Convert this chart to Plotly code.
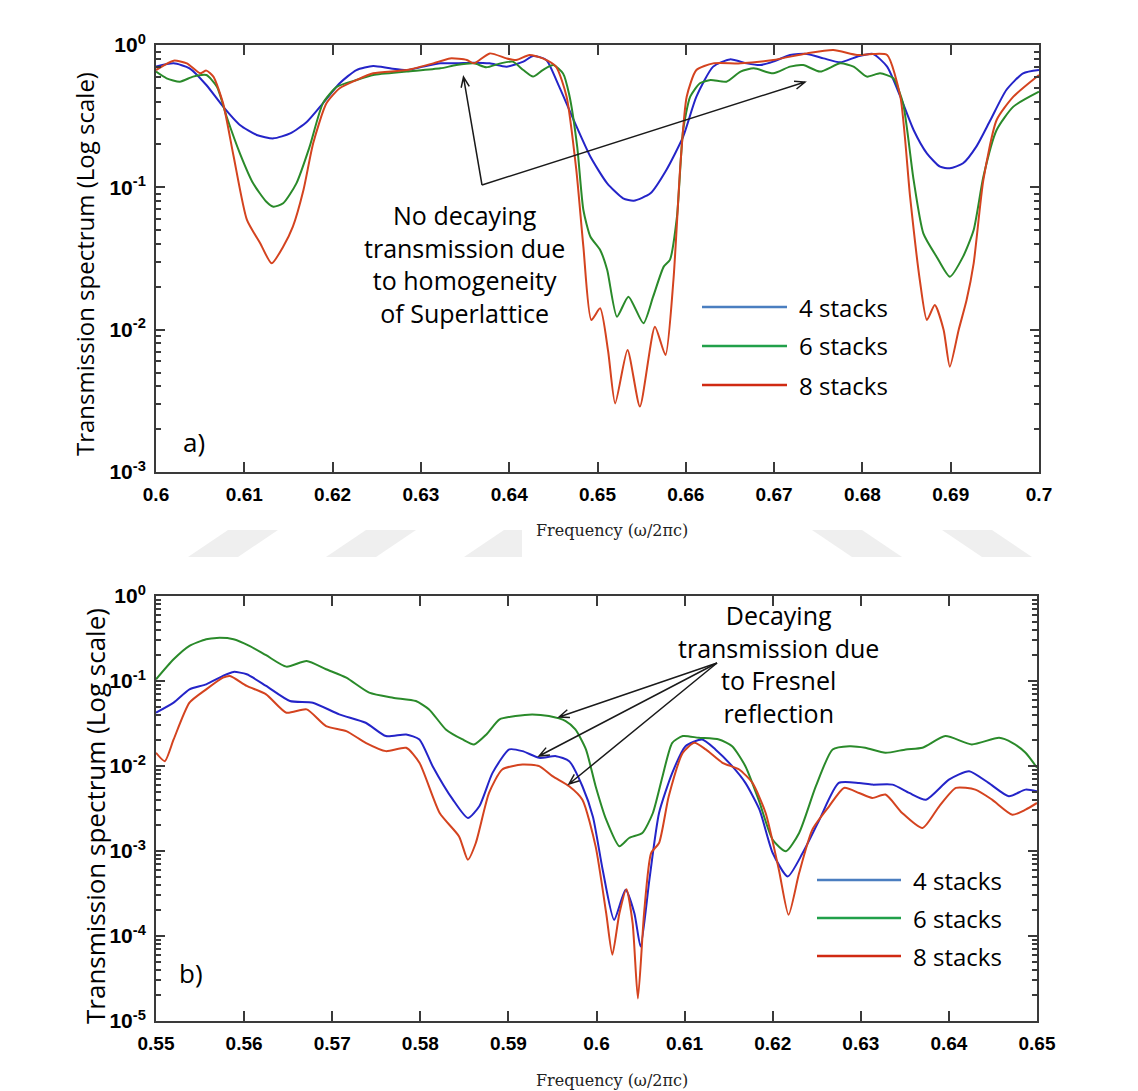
import math
import plotly.graph_objects as go

W, H = 1138, 1091


def px(x):
    return x / W


def py(y):
    return 1 - y / H


# ---------------- data (log10 of transmission) ----------------
# panel a) 0.60 - 0.70
a_freq_4 = [0.600, 0.602, 0.6038, 0.6057, 0.6076, 0.6095, 0.6114, 0.6133, 0.6152, 0.6171, 0.6189, 0.6208,
            0.6227, 0.6246, 0.6265, 0.6284, 0.6303, 0.6322, 0.634, 0.636, 0.6378, 0.6397, 0.6416, 0.6427,
            0.6442, 0.6455, 0.6473, 0.6492, 0.6511, 0.6529, 0.6541, 0.656, 0.6578, 0.6597, 0.6612, 0.6631,
            0.665, 0.6669, 0.6684, 0.6699, 0.6718, 0.6737, 0.6756, 0.6775, 0.6794, 0.6812, 0.6828, 0.6843,
            0.6858, 0.6873, 0.6888, 0.6899, 0.6914, 0.6929, 0.6945, 0.6963, 0.6982, 0.700]
a_logT_4 = [-0.152, -0.129, -0.164, -0.281, -0.433, -0.562, -0.632, -0.656, -0.621, -0.539, -0.410, -0.269,
            -0.176, -0.148, -0.164, -0.176, -0.152, -0.129, -0.129, -0.124, -0.129, -0.152, -0.117, -0.077,
            -0.105, -0.27, -0.527, -0.785, -0.972, -1.077, -1.094, -1.042, -0.878, -0.644, -0.363, -0.152,
            -0.101, -0.129, -0.141, -0.117, -0.070, -0.063, -0.094, -0.122, -0.082, -0.063, -0.152, -0.363,
            -0.597, -0.761, -0.855, -0.866, -0.831, -0.714, -0.527, -0.316, -0.199, -0.176]

a_freq_6 = [0.600, 0.6012, 0.6027, 0.6042, 0.6057, 0.6069, 0.608, 0.6095, 0.611, 0.6125, 0.6133, 0.6144,
            0.6159, 0.6174, 0.6189, 0.6205, 0.6227, 0.6246, 0.6284, 0.6322, 0.634, 0.636, 0.6374, 0.639,
            0.6404, 0.6416, 0.6427, 0.6438, 0.645, 0.6461, 0.6468, 0.6477, 0.6484, 0.6492, 0.6503, 0.6511,
            0.6522, 0.6535, 0.6552, 0.6563, 0.6575, 0.6582, 0.659, 0.6597, 0.6605, 0.6616, 0.6628, 0.6646,
            0.6662, 0.6677, 0.6699, 0.6718, 0.6733, 0.6752, 0.6775, 0.679, 0.6805, 0.682, 0.6835, 0.6846,
            0.6858, 0.6869, 0.6884, 0.6899, 0.6914, 0.6926, 0.6937, 0.6952, 0.6971, 0.700]
a_logT_6 = [-0.187, -0.234, -0.258, -0.222, -0.211, -0.293, -0.504, -0.761, -0.972, -1.101, -1.136, -1.112,
            -0.972, -0.714, -0.410, -0.293, -0.246, -0.211, -0.187, -0.164, -0.141, -0.129, -0.157, -0.129,
            -0.117, -0.176, -0.222, -0.176, -0.141, -0.20, -0.35, -0.714, -1.159, -1.347, -1.44, -1.581,
            -1.909, -1.768, -1.955, -1.768, -1.557, -1.51, -1.206, -0.597, -0.363, -0.269, -0.246, -0.258,
            -0.187, -0.164, -0.199, -0.152, -0.141, -0.187, -0.129, -0.152, -0.222, -0.199, -0.234, -0.41,
            -0.948, -1.323, -1.487, -1.628, -1.487, -1.30, -0.925, -0.597, -0.433, -0.328]

a_freq_8 = [0.600, 0.602, 0.6035, 0.605, 0.6057, 0.6065, 0.6076, 0.6088, 0.6103, 0.6118, 0.6131, 0.6144,
            0.6155, 0.6167, 0.6178, 0.6193, 0.6208, 0.6227, 0.6246, 0.6284, 0.6314, 0.6333, 0.6352, 0.636,
            0.6378, 0.6397, 0.6408, 0.6423, 0.6438, 0.6453, 0.6465, 0.6476, 0.6484, 0.6493, 0.6503, 0.6512,
            0.652, 0.6534, 0.6548, 0.6565, 0.6577, 0.6586, 0.6594, 0.6601, 0.6612, 0.6631, 0.6662, 0.6699,
            0.6737, 0.6767, 0.6794, 0.6812, 0.6828, 0.6843, 0.6854, 0.6865, 0.6873, 0.6882, 0.6892, 0.6899,
            0.6909, 0.6918, 0.6926, 0.6937, 0.6952, 0.6971, 0.700]
a_logT_8 = [-0.176, -0.110, -0.129, -0.199, -0.180, -0.222, -0.410, -0.785, -1.229, -1.393, -1.534, -1.417,
            -1.276, -1.019, -0.691, -0.410, -0.304, -0.246, -0.199, -0.176, -0.129, -0.094, -0.105, -0.129,
            -0.059, -0.094, -0.105, -0.070, -0.094, -0.152, -0.363, -0.878, -1.417, -1.932, -1.85, -2.15,
            -2.518, -2.143, -2.54, -1.979, -2.178, -1.651, -0.831, -0.363, -0.176, -0.129, -0.129, -0.105,
            -0.059, -0.035, -0.070, -0.063, -0.070, -0.363, -1.066, -1.651, -1.932, -1.827, -2.002, -2.26,
            -2.002, -1.792, -1.534, -0.948, -0.527, -0.363, -0.211]

# panel b) 0.55 - 0.65
b_freq_4 = [0.550, 0.552, 0.5538, 0.5557, 0.5576, 0.5588, 0.5603, 0.5625, 0.5652, 0.5678, 0.5708, 0.5738,
            0.5761, 0.5784, 0.5799, 0.5814, 0.5837, 0.5854, 0.5867, 0.5882, 0.5901, 0.5916, 0.5935, 0.5954,
            0.5969, 0.5984, 0.5996, 0.6007, 0.602, 0.6033, 0.6043, 0.605, 0.606, 0.6071, 0.6086, 0.6101,
            0.612, 0.6135, 0.6154, 0.6169, 0.6185, 0.620, 0.6217, 0.6234, 0.6253, 0.6275, 0.6298, 0.6313,
            0.6336, 0.6355, 0.6374, 0.640, 0.6423, 0.6445, 0.6468, 0.6487, 0.650]
b_logT_4 = [-1.373, -1.255, -1.098, -1.039, -0.940, -0.893, -0.921, -1.058, -1.235, -1.255, -1.393, -1.491,
            -1.648, -1.629, -1.688, -2.002, -2.396, -2.612, -2.474, -2.081, -1.805, -1.825, -1.904, -1.884,
            -1.943, -2.238, -2.6, -3.22, -3.81, -3.457, -3.732, -4.124, -3.339, -2.553, -2.081, -1.767,
            -1.688, -1.805, -2.002, -2.199, -2.514, -3.024, -3.30, -3.024, -2.632, -2.199, -2.199, -2.219,
            -2.219, -2.317, -2.396, -2.160, -2.061, -2.199, -2.356, -2.278, -2.297]

b_freq_6 = [0.550, 0.552, 0.5538, 0.5557, 0.5569, 0.5588, 0.5606, 0.5625, 0.5648, 0.5671, 0.5693, 0.5716,
            0.5742, 0.5769, 0.5795, 0.581, 0.5829, 0.5848, 0.5861, 0.5875, 0.589, 0.5908, 0.5927, 0.5946,
            0.5965, 0.5976, 0.5988, 0.5999, 0.6011, 0.6026, 0.6037, 0.6052, 0.6064, 0.6075, 0.6086, 0.6098,
            0.6116, 0.6139, 0.6154, 0.6169, 0.6184, 0.620, 0.6215, 0.623, 0.6249, 0.6268, 0.6287, 0.6305,
            0.6328, 0.6351, 0.637, 0.6396, 0.6426, 0.6457, 0.6472, 0.6487, 0.650]
b_logT_6 = [-0.98, -0.744, -0.586, -0.508, -0.493, -0.508, -0.586, -0.697, -0.831, -0.764, -0.862, -0.961,
            -1.137, -1.196, -1.236, -1.334, -1.570, -1.688, -1.746, -1.629, -1.452, -1.412, -1.393, -1.412,
            -1.471, -1.570, -1.805, -2.238, -2.632, -2.945, -2.847, -2.788, -2.553, -2.120, -1.727, -1.648,
            -1.668, -1.688, -1.767, -2.002, -2.396, -2.868, -3.004, -2.788, -2.238, -1.805, -1.767, -1.785,
            -1.845, -1.805, -1.785, -1.648, -1.746, -1.668, -1.727, -1.845, -2.02]

b_freq_8 = [0.550, 0.551, 0.552, 0.5538, 0.5557, 0.5576, 0.5584, 0.5603, 0.5625, 0.5648, 0.5671, 0.5693,
            0.5716, 0.5738, 0.5761, 0.5784, 0.5799, 0.5822, 0.5844, 0.5854, 0.5863, 0.5878, 0.5893, 0.5916,
            0.5935, 0.595, 0.5969, 0.5984, 0.5999, 0.6011, 0.6018, 0.6026, 0.6034, 0.6041, 0.6047, 0.6054,
            0.6062, 0.6071, 0.6082, 0.6098, 0.6111, 0.6124, 0.6143, 0.6162, 0.6177, 0.6192, 0.6207, 0.6218,
            0.623, 0.6245, 0.6264, 0.6281, 0.6298, 0.6313, 0.6328, 0.6347, 0.637, 0.6389, 0.6408, 0.643,
            0.6449, 0.6472, 0.6487, 0.650]
b_logT_8 = [-1.845, -1.943, -1.688, -1.255, -1.098, -0.961, -0.941, -1.058, -1.157, -1.373, -1.334, -1.530,
            -1.589, -1.727, -1.825, -1.786, -1.962, -2.553, -2.828, -3.103, -2.906, -2.317, -2.041, -1.982,
            -2.002, -2.120, -2.238, -2.396, -2.946, -3.732, -4.22, -3.732, -3.449, -3.849, -4.734, -3.732,
            -3.024, -2.906, -2.356, -1.845, -1.727, -1.805, -1.962, -2.041, -2.199, -2.553, -3.22, -3.751,
            -3.26, -2.749, -2.474, -2.258, -2.317, -2.376, -2.336, -2.553, -2.730, -2.474, -2.258, -2.278,
            -2.396, -2.573, -2.514, -2.435]

series_names = ["4 stacks", "6 stacks", "8 stacks"]
line_colors = ["#2424c8", "#2a8a2a", "#d4431f"]
legend_colors = ["#4a7ec0", "#21a04a", "#d02a12"]

a_x_ticks = [0.60, 0.61, 0.62, 0.63, 0.64, 0.65, 0.66, 0.67, 0.68, 0.69, 0.70]
a_x_ticktext = ["0.6", "0.61", "0.62", "0.63", "0.64", "0.65", "0.66", "0.67", "0.68", "0.69", "0.7"]
b_x_ticks = [0.55, 0.56, 0.57, 0.58, 0.59, 0.60, 0.61, 0.62, 0.63, 0.64, 0.65]
b_x_ticktext = ["0.55", "0.56", "0.57", "0.58", "0.59", "0.6", "0.61", "0.62", "0.63", "0.64", "0.65"]
a_y_exps = [0, -1, -2, -3]
b_y_exps = [0, -1, -2, -3, -4, -5]

# ---------------- figure ----------------
fig = go.Figure()

panels = [
    ("x", "y", [(a_freq_4, a_logT_4), (a_freq_6, a_logT_6), (a_freq_8, a_logT_8)]),
    ("x2", "y2", [(b_freq_4, b_logT_4), (b_freq_6, b_logT_6), (b_freq_8, b_logT_8)]),
]
for xa, ya, series in panels:
    for (fx, fl), name, col in zip(series, series_names, line_colors):
        fig.add_trace(go.Scatter(
            x=fx, y=[10 ** v for v in fl], mode="lines", name=name,
            line=dict(color=col, width=2, shape="spline", smoothing=0.6),
            xaxis=xa, yaxis=ya, showlegend=False))

tick_font_x = dict(family="Liberation Sans Narrow, Arial Narrow, Liberation Sans, Arial", size=19,
                   color="black", weight="bold")
tick_font_y = dict(family="Liberation Sans, Arial", size=21, color="black", weight="bold")
axis_line = dict(showline=True, linecolor="#3a3a3a", linewidth=2, mirror="ticks",
                 showgrid=False, zeroline=False, ticks="inside", tickcolor="#3a3a3a")


def minor_vals(lo, hi):
    vals = []
    for e in range(lo, hi):
        for m in range(2, 10):
            vals.append(m * 10 ** e)
    return vals


def ytext(e):
    return "10<sup>%d</sup>" % e


fig.update_layout(
    width=W, height=H, autosize=False,
    margin=dict(l=0, r=0, t=0, b=0, pad=0),
    paper_bgcolor="white", plot_bgcolor="white",
    showlegend=False,
    xaxis=dict(domain=[px(156), px(1039)], range=[0.6, 0.7], anchor="y", automargin=False,
               tickvals=a_x_ticks, ticktext=a_x_ticktext, ticklen=10, tickwidth=1.5,
               tickfont=tick_font_x, ticklabelstandoff=4, **axis_line),
    yaxis=dict(domain=[py(472), py(45)], type="log", range=[-3, 0], anchor="x", automargin=False,
               tickvals=[10 ** e for e in a_y_exps], ticktext=[ytext(e) for e in a_y_exps],
               ticklen=9, tickwidth=1.5, tickfont=tick_font_y, ticklabelstandoff=4,
               minor=dict(tickvals=minor_vals(-3, 0), ticks="inside", ticklen=5, tickcolor="#3a3a3a"),
               **axis_line),
    xaxis2=dict(domain=[px(156), px(1037)], range=[0.55, 0.65], anchor="y2", automargin=False,
                tickvals=b_x_ticks, ticktext=b_x_ticktext, ticklen=10, tickwidth=1.5,
                tickfont=tick_font_x, ticklabelstandoff=4, **axis_line),
    yaxis2=dict(domain=[py(1021), py(596)], type="log", range=[-5, 0], anchor="x2", automargin=False,
                tickvals=[10 ** e for e in b_y_exps], ticktext=[ytext(e) for e in b_y_exps],
                ticklen=9, tickwidth=1.5, tickfont=tick_font_y, ticklabelstandoff=4,
                minor=dict(tickvals=minor_vals(-5, 0), ticks="inside", ticklen=5, tickcolor="#3a3a3a"),
                **axis_line),
)

shapes = []
annotations = []

# faint watermark bands between the panels
band_fill = "#efefef"
bands = [
    [(188, 557), (238, 557), (278, 530), (228, 530)],
    [(326, 557), (376, 557), (416, 530), (366, 530)],
    [(464, 557), (522, 557), (522, 530), (504, 530)],
    [(812, 530), (862, 530), (902, 557), (852, 557)],
    [(942, 530), (992, 530), (1032, 557), (982, 557)],
]
for poly in bands:
    path = "M " + " L ".join("%.5f,%.5f" % (px(x), py(y)) for x, y in poly) + " Z"
    shapes.append(dict(type="path", xref="paper", yref="paper", path=path,
                       fillcolor=band_fill, line=dict(width=0), layer="below"))


# arrows (open V heads)
def arrow(tail, head, wing=11, half_angle=22):
    tx, ty = tail
    hx, hy = head
    d = math.hypot(hx - tx, hy - ty)
    ux, uy = (hx - tx) / d, (hy - ty) / d
    a = math.radians(half_angle)
    pts = []
    for s in (1, -1):
        c, sn = math.cos(s * a), math.sin(s * a)
        rx = ux * c - uy * sn
        ry = ux * sn + uy * c
        pts.append((hx - wing * rx, hy - wing * ry))
    path = "M %.5f,%.5f L %.5f,%.5f M %.5f,%.5f L %.5f,%.5f L %.5f,%.5f" % (
        px(tx), py(ty), px(hx), py(hy),
        px(pts[0][0]), py(pts[0][1]), px(hx), py(hy), px(pts[1][0]), py(pts[1][1]))
    return dict(type="path", xref="paper", yref="paper", path=path,
                line=dict(color="#1a1a1a", width=1.5))


shapes.append(arrow((482, 185), (463.5, 77)))
shapes.append(arrow((482, 185), (805, 82)))
shapes.append(arrow((717, 663), (559, 717)))
shapes.append(arrow((717, 663), (539, 756)))
shapes.append(arrow((717, 663), (569, 784)))

# legend drawn inside each panel
text_font = dict(family="Open Sans, Lato, sans-serif", size=24, color="black")
for (x0, x1, tx, ys) in [(702, 787, 797, [307, 346, 385]), (817, 901, 911, [880, 918, 956])]:
    for y, name, col in zip(ys, series_names, legend_colors):
        shapes.append(dict(type="line", xref="paper", yref="paper",
                           x0=px(x0), x1=px(x1), y0=py(y), y1=py(y),
                           line=dict(color=col, width=2.5)))
        annotations.append(dict(xref="paper", yref="paper", x=px(tx), y=py(y), text=name,
                                showarrow=False, xanchor="left", yanchor="middle", font=text_font))

# explanatory texts
ann_font = dict(family="Open Sans, Lato, sans-serif", size=25, color="black")
annotations.append(dict(xref="paper", yref="paper", x=px(464), y=py(264),
                        text="No decaying<br>transmission due<br>to homogeneity<br>of Superlattice",
                        showarrow=False, xanchor="center", yanchor="middle", align="center", font=ann_font))
annotations.append(dict(xref="paper", yref="paper", x=px(778), y=py(664),
                        text="Decaying<br>transmission due<br>to Fresnel<br>reflection",
                        showarrow=False, xanchor="center", yanchor="middle", align="center", font=ann_font))

# panel labels
lab_font = dict(family="Open Sans, Lato, sans-serif", size=26, color="black")
annotations.append(dict(xref="paper", yref="paper", x=px(181), y=py(442), text="a)", showarrow=False,
                        xanchor="left", yanchor="middle", font=lab_font))
annotations.append(dict(xref="paper", yref="paper", x=px(177), y=py(973), text="b)", showarrow=False,
                        xanchor="left", yanchor="middle", font=lab_font))

# y-axis titles
annotations.append(dict(xref="paper", yref="paper", x=px(84), y=py(264),
                        text="Transmission spectrum (Log scale)", textangle=-90, showarrow=False,
                        xanchor="center", yanchor="middle",
                        font=dict(family="Open Sans, Lato, sans-serif", size=24, color="black")))
annotations.append(dict(xref="paper", yref="paper", x=px(95), y=py(816),
                        text="Transmission spectrum (Log scale)", textangle=-90, showarrow=False,
                        xanchor="center", yanchor="middle",
                        font=dict(family="Open Sans, Lato, sans-serif", size=26, color="black")))

# x-axis titles
xtitle_font = dict(family="DejaVu Serif, Liberation Serif, serif", size=16, color="#222222")
annotations.append(dict(xref="paper", yref="paper", x=px(612), y=py(530), text="Frequency (ω/2πc)",
                        showarrow=False, xanchor="center", yanchor="middle", font=xtitle_font))
annotations.append(dict(xref="paper", yref="paper", x=px(612), y=py(1080), text="Frequency (ω/2πc)",
                        showarrow=False, xanchor="center", yanchor="middle", font=xtitle_font))

fig.update_layout(shapes=shapes, annotations=annotations)

fig.write_html("out.html", config={"displayModeBar": False},
               post_script="document.body.style.margin='0px';")
